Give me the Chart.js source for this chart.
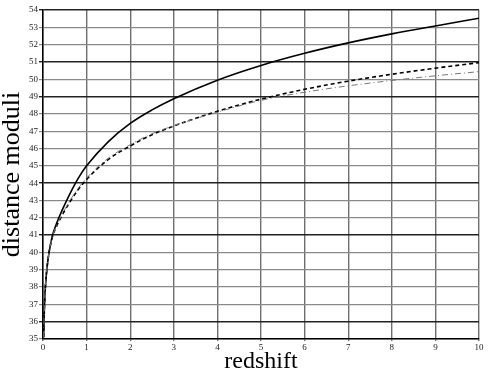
<!DOCTYPE html>
<html>
<head>
<meta charset="utf-8">
<script src="https://cdn.jsdelivr.net/npm/chart.js@4.4.1/dist/chart.umd.min.js"></script>
<style>
  html, body { margin: 0; padding: 0; background: #fff; }
  canvas { display: block; }
</style>
</head>
<body>
<canvas id="myChart" width="491" height="379"></canvas>
<script>
var redshift = [0.015, 0.03, 0.05, 0.1, 0.2, 0.3, 0.45, 0.6, 0.8, 1, 1.5, 2, 2.5, 3, 4, 5, 6, 7, 8, 9, 10];
// solid curve
var muSolid = [35.1, 36.6, 37.8, 39.3, 40.8, 41.6, 42.5, 43.3, 44.25, 45.0, 46.4, 47.45, 48.23, 48.88, 49.95, 50.8, 51.5, 52.1, 52.62, 53.08, 53.52];
// dashed curve
var muDashed = [35.1, 36.6, 37.8, 39.3, 40.75, 41.45, 42.2, 42.85, 43.6, 44.22, 45.37, 46.15, 46.8, 47.3, 48.15, 48.85, 49.42, 49.89, 50.29, 50.64, 50.96];
// dash-dot curve
var muDashDot = [35.1, 36.6, 37.8, 39.3, 40.75, 41.5, 42.25, 42.92, 43.68, 44.3, 45.45, 46.22, 46.85, 47.32, 48.1, 48.78, 49.25, 49.62, 49.93, 50.2, 50.44];

var xTicks = [0, 1, 2, 3, 4, 5, 6, 7, 8, 9, 10];
var yTicks = [35, 36, 37, 38, 39, 40, 41, 42, 43, 44, 45, 46, 47, 48, 49, 50, 51, 52, 53, 54];

function pts(mu) {
    return redshift.map(function(z, i) { return { x: z, y: mu[i] }; });
}

var darkY = [36, 41, 44, 49, 51, 54];

var ctx = document.getElementById('myChart').getContext('2d');
var chart = new Chart(ctx, {
    type: 'line',
    data: {
        datasets: [{
            data: pts(muDashDot),
            borderColor: '#777',
            borderWidth: 1,
            borderDash: [6, 3, 1, 3],
            pointRadius: 0,
            cubicInterpolationMode: 'monotone'
        }, {
            data: pts(muDashed),
            borderColor: '#000',
            borderWidth: 1.6,
            borderDash: [4, 3],
            pointRadius: 0,
            cubicInterpolationMode: 'monotone'
        }, {
            data: pts(muSolid),
            borderColor: '#000',
            borderWidth: 1.6,
            pointRadius: 0,
            cubicInterpolationMode: 'monotone'
        }]
    },
    options: {
        responsive: false,
        animation: false,
        plugins: { legend: { display: false }, tooltip: { enabled: false } },
        layout: { padding: { left: 0, right: 12, top: 10, bottom: 0 } },
        scales: {
            x: {
                type: 'linear',
                min: 0,
                max: 10,
                afterBuildTicks: function(axis) {
                    axis.ticks = xTicks.map(function(v) { return { value: v }; });
                },
                afterFit: function(axis) { axis.height = 40; },
                ticks: {
                    color: '#222',
                    padding: 1,
                    maxRotation: 0,
                    font: { family: 'Liberation Serif', size: 9 }
                },
                grid: {
                    color: '#6e6e6e',
                    lineWidth: 1.4,
                    tickLength: 2
                },
                border: { color: '#000', width: 1.5 },
                title: {
                    display: true,
                    text: 'redshift',
                    color: '#000',
                    font: { family: 'Liberation Serif', size: 24 },
                    padding: { top: 0, bottom: 3 }
                }
            },
            y: {
                type: 'linear',
                min: 35,
                max: 54,
                afterBuildTicks: function(axis) {
                    axis.ticks = yTicks.map(function(v) { return { value: v }; });
                },
                afterFit: function(axis) { axis.width = 43; },
                ticks: {
                    color: '#222',
                    padding: 1,
                    font: { family: 'Liberation Serif', size: 9 }
                },
                grid: {
                    color: function(c) {
                        return darkY.indexOf(c.tick.value) >= 0 ? '#222' : '#8a8a8a';
                    },
                    lineWidth: function(c) {
                        return darkY.indexOf(c.tick.value) >= 0 ? 1.4 : 1.2;
                    },
                    tickLength: 4
                },
                border: { color: '#000', width: 1.5 },
                title: {
                    display: true,
                    text: 'distance moduli',
                    color: '#000',
                    font: { family: 'Liberation Serif', size: 26 },
                    padding: { top: -3, bottom: 0 }
                }
            }
        }
    }
});
</script>
</body>
</html>
